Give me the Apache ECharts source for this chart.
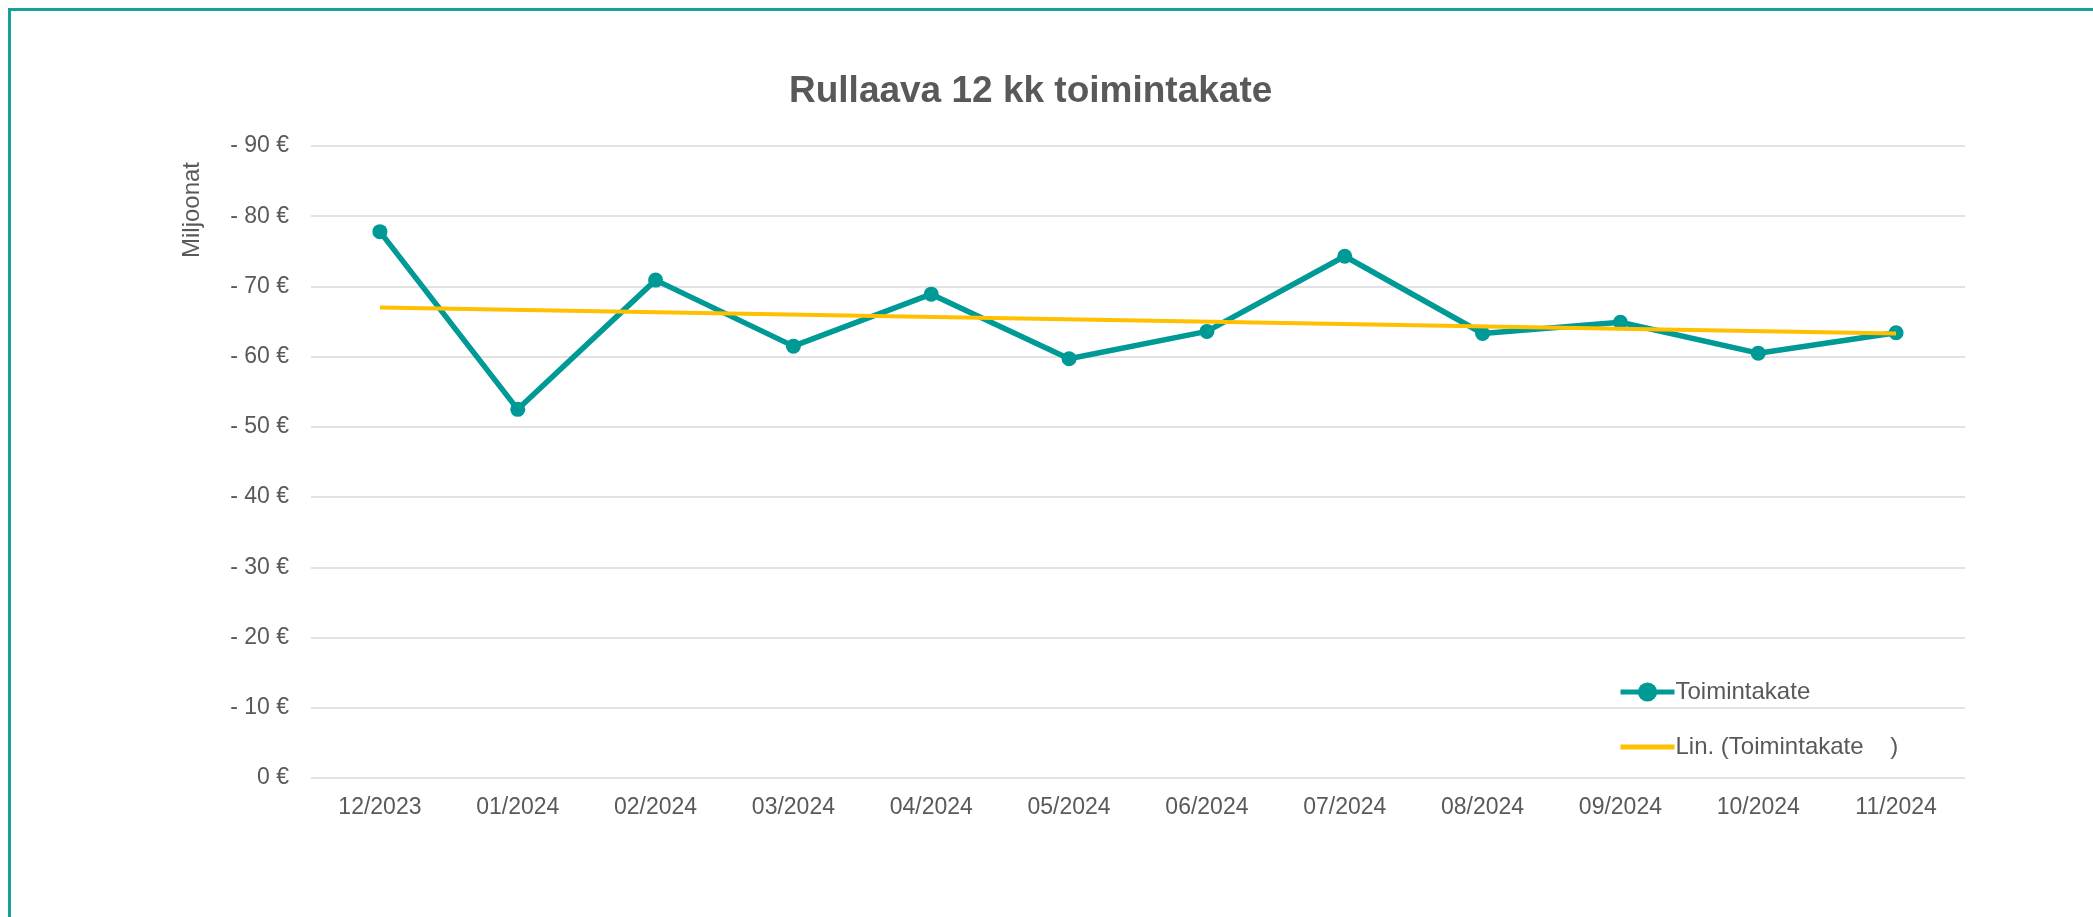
<!DOCTYPE html>
<html>
<head>
<meta charset="utf-8">
<script src="https://cdn.jsdelivr.net/npm/echarts@6/dist/echarts.min.js"></script>
<style>
  html, body { margin: 0; padding: 0; background: #fff; overflow: hidden; }
  #frame { position: absolute; left: 8px; top: 8px; width: 2200px; height: 1000px;
           border-top: 3px solid #14A09B; border-left: 3px solid #14A09B; box-sizing: border-box; }
  #chart { position: absolute; left: 0; top: 0; width: 2093px; height: 917px; }
</style>
</head>
<body>
<div id="frame"></div>
<div id="chart"></div>
<script>
// kuukaudet
var months = ['12/2023', '01/2024', '02/2024', '03/2024', '04/2024', '05/2024',
  '06/2024', '07/2024', '08/2024', '09/2024', '10/2024', '11/2024']
// toimintakate, milj. €
var toimintakate = [77.8, 52.5, 70.9, 61.5, 68.9, 59.7, 63.6, 74.3, 63.3, 64.9, 60.5, 63.4]
// lineaarinen trendi: vain alku ja loppu, väli yhdistetään
var trend = [67.0, null, null, null, null, null, null, null, null, null, null, 63.3]
var yTicks = [0, 10, 20, 30, 40, 50, 60, 70, 80, 90]

var textColor = '#595959'
var font = 'Liberation Sans, Arial, sans-serif'

var option = {
  animation: false,
  textStyle: { fontFamily: font },
  title: {
    text: 'Rullaava 12 kk toimintakate',
    left: 789,
    top: 73,
    padding: 0,
    textStyle: { color: textColor, fontSize: 37, fontWeight: 'bold', fontFamily: font }
  },
  graphic: [{
    type: 'text',
    x: 192,
    y: 210,
    rotation: Math.PI / 2,
    style: {
      text: 'Miljoonat',
      fill: textColor,
      font: '24px ' + font,
      align: 'center',
      verticalAlign: 'middle'
    }
  }],
  legend: {
    orient: 'vertical',
    left: 1613,
    top: 675,
    itemWidth: 54,
    itemHeight: 24,
    itemGap: 31,
    lineStyle: { width: 5 },
    textStyle: { color: textColor, fontSize: 24, fontFamily: font, padding: [0, 0, 0, -4] },
    data: [
      'Toimintakate',
      { name: 'Lin. (Toimintakate    )', itemStyle: { opacity: 0 } }
    ]
  },
  grid: { left: 311, right: 128, top: 146, bottom: 139 },
  xAxis: {
    type: 'category',
    data: months,
    boundaryGap: true,
    axisLine: { show: false },
    axisTick: { show: false },
    axisLabel: { color: textColor, fontSize: 23, margin: 18, fontFamily: font }
  },
  yAxis: {
    type: 'value',
    min: yTicks[0],
    max: yTicks[yTicks.length - 1],
    interval: 10,
    axisLine: { show: false },
    axisTick: { show: false },
    splitLine: { lineStyle: { color: '#D9D9D9', width: 1.5 } },
    axisLabel: {
      color: textColor,
      fontSize: 23,
      margin: 22,
      fontFamily: font,
      formatter: function (v) {
        return v === 0 ? '0 €' : '- ' + v + ' €'
      }
    }
  },
  series: [
    {
      name: 'Toimintakate',
      type: 'line',
      data: toimintakate,
      symbol: 'circle',
      symbolSize: 15,
      lineStyle: { color: '#009A96', width: 5.5 },
      itemStyle: { color: '#009A96' },
      z: 2
    },
    {
      name: 'Lin. (Toimintakate    )',
      type: 'line',
      data: trend,
      connectNulls: true,
      symbol: 'none',
      showSymbol: false,
      lineStyle: { color: '#FFC000', width: 4 },
      itemStyle: { color: '#FFC000' },
      z: 3
    }
  ]
}

var myChart = echarts.init(document.getElementById('chart'))
myChart.setOption(option)
</script>
</body>
</html>
